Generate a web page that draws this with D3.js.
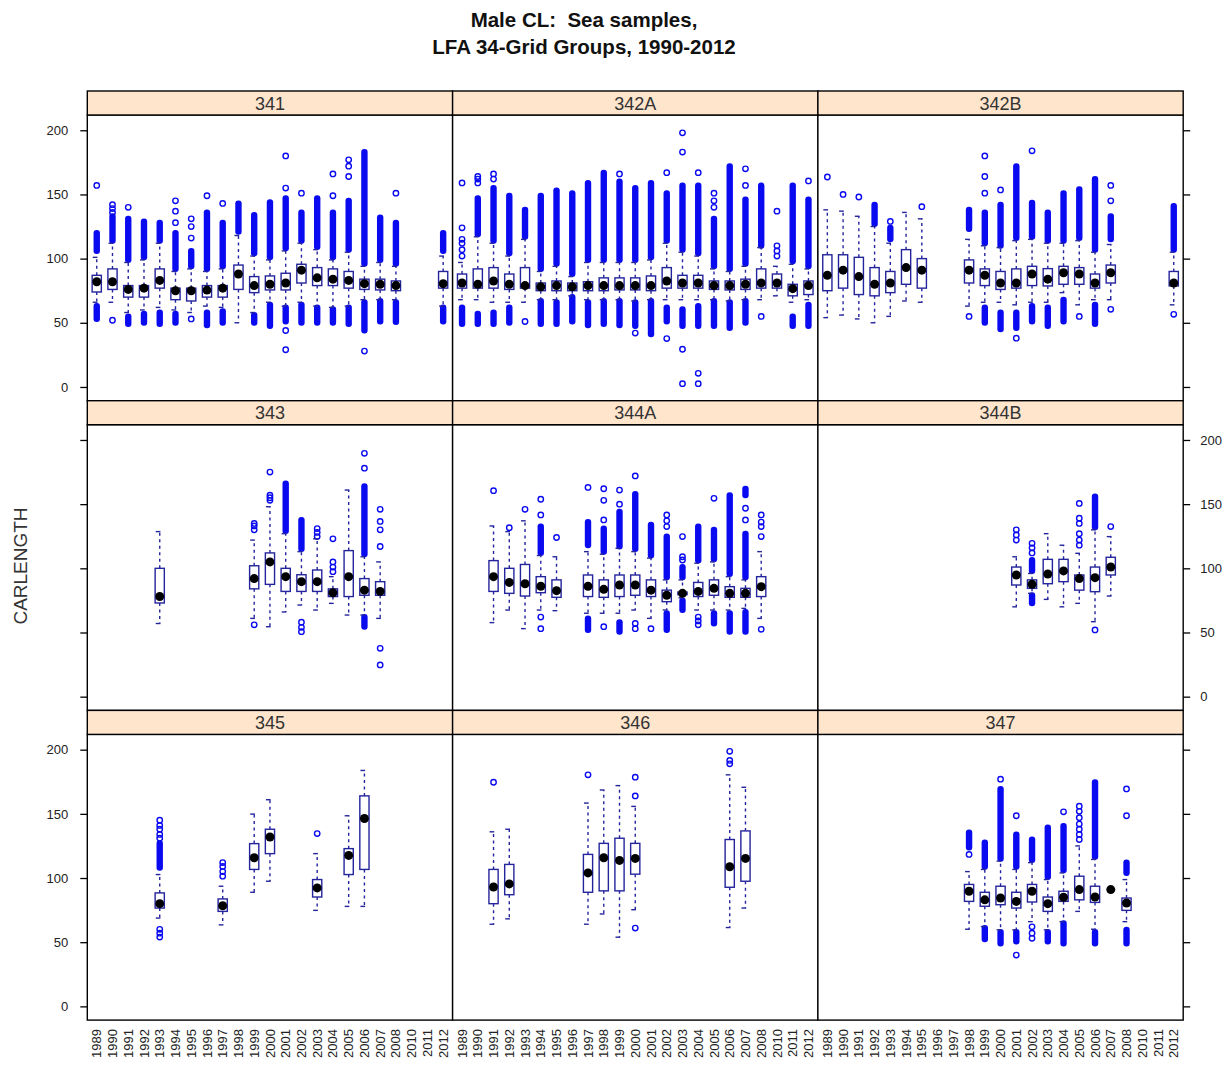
<!DOCTYPE html>
<html><head><meta charset="utf-8">
<script src="https://cdn.jsdelivr.net/npm/d3@7"></script>
<style>body{margin:0;background:#fff}svg{display:block;font-family:"Liberation Sans",Arial,sans-serif}</style>
</head><body>
<svg id="c" width="1231" height="1065"></svg>
<script>
// ---------- data ----------
const years = ["1989","1990","1991","1992","1993","1994","1995","1996","1997","1998","1999","2000",
  "2001","2002","2003","2004","2005","2006","2007","2008","2010","2011","2012"];
const panelNames = ["341","342A","342B","343","344A","344B","345","346","347"];
const yTicks = [0,50,100,150,200];
const titleLines = ["Male CL:  Sea samples,", "LFA 34-Grid Groups, 1990-2012"];
const yTitle = "CARLENGTH";
// each box: [year, lower whisker, Q1, median, Q3, upper whisker, outliers]
// outliers: single values, or [low, high] for a dense run of outliers
const box341 = [
 ["1989",66,74,82,87,101,[[106,120],157,[53,63]]],
 ["1990",66,76,82,92,112,[[114,133],136,139,142,52]],
 ["1991",58,70,76,79,97,[[99,131],140,[49,55]]],
 ["1992",60,70,77,79,99,[[101,129],[50,57]]],
 ["1993",62,77,83,92,112,[[114,128],[49,58]]],
 ["1994",60,68,75,77,90,[[92,120],128,137,145,[50,57]]],
 ["1995",58,67,75,77,92,[[94,106],116,125,131,53]],
 ["1996",63,70,75.5,79,90,[[92,136],149,[48,58]]],
 ["1997",62,70,77,79,92,[[94,128],143,[50,59]]],
 ["1998",50,76,88,95,118,[[121,143]]],
 ["1999",58,73.5,79,86,102,[[104,134],[50,56]]],
 ["2000",66,75.6,80,86.5,99,[[101,144],[47.5,64]]],
 ["2001",63,75.6,81,88.6,106,[[108,147],155,180,[51,62],44,29]],
 ["2002",66,81,91,95.6,112,[[114,136],151,[50,64]]],
 ["2003",63,79,85,93,107,[[109,147],[50,62]]],
 ["2004",62,79,84,92,99,[[101,136],149,166,[50,60.5]]],
 ["2005",63,77,83,90,105,[[107,145],164,172,177,[49,62]]],
 ["2006",68,76,80.5,84,94,[[96,183],[44,66],28]],
 ["2007",68,75.6,80,84,97,[[99,132],[51,67]]],
 ["2008",68,75,79,82.6,94,[[96,128],151,[50.6,66]]],
 ["2012",63,77,80.5,90,102,[[106,120],[51,62]]]
];
const box342A = [
 ["1989",68,77,81,88,97,[102,107,112,115,124,159,[49,62]]],
 ["1990",68,77,80,92,117,[[119,147],159,162,164,[49,57]]],
 ["1991",66,77,82.6,93,112,[[114,155],162,166,[49,58]]],
 ["1992",66,76,80,88,102,[[104,149],[50,62]]],
 ["1993",66,77,79,93,115,[[117,138],51]],
 ["1994",68,75,78,81,90,[[92,149],[49,67]]],
 ["1995",68,75,79,82.6,94,[[96,153],[49,66]]],
 ["1996",71,75,78,81,86,[[88,151],[51,70]]],
 ["1997",68,75,79,82,97,[[99,159],[48,66]]],
 ["1998",68,75,79,85,97,[[99,167],[49,67]]],
 ["1999",68,75.6,79,85,97,[[99,160],166,[48,67]]],
 ["2000",67,75.6,79,85,97,[[99,155],[47.5,66],42]],
 ["2001",68,75,79,86.5,99,[[101,159],[41,67]]],
 ["2002",68,77,82.6,93,112,[[114,151],167,[51,62],37.7]],
 ["2003",68,77,81,87,105,[[107,157],183,198,[47.5,60.5],29.4,2.6]],
 ["2004",68,77,81,87,102,[[104,157],167,[47.5,63],10.6,2.6]],
 ["2005",68,76,79,82.6,92,[[94,131],140,145,151,[47.5,67]]],
 ["2006",67,75.6,79,82.6,90,[[92,172],[46,66]]],
 ["2007",68,76,80,84,94,[[96,146],157,170,[50,67]]],
 ["2008",68,77,81,92,108.6,[[110,157],55]],
 ["2010",71,77,81,88,94,[102,106,110,137]],
 ["2011",66,71,76.6,80,95.6,[[98,157],[47.5,55]]],
 ["2012",68,72,79,82.6,92,[[94,146],160.5,[47.5,64]]]
];
const box342B = [
 ["1989",54,75,87,103,138,[163.6]],
 ["1990",56,77,91,103,137,[150]],
 ["1991",53,72,86,101,133,[148]],
 ["1992",50,71,80,93,125,[[127,142]]],
 ["1993",55,73.5,81,90,112,[[115,124],129]],
 ["1994",67,80,93,107,136,[]],
 ["1995",66,77,91,100,131,[140.5]],
 ["1998",63,81,91,99,115,[[123,138],55]],
 ["1999",66,79,87,92,110,[[112,136],151,164,180,[50,62]]],
 ["2000",66,76,81,90,108.6,[[110,142],153.5,[45,58]]],
 ["2001",64,77,81,92,114,[[116,172],[46,58],38]],
 ["2002",66,79,88,94,115,[[117,143.6],184,[51,63]]],
 ["2003",66,78.7,84,92.2,112,[[114,136],[47.5,62]]],
 ["2004",73.5,80,89,94,112,[[114,151],[51,68]]],
 ["2005",64,80,88,93,114,[[116,154],55]],
 ["2006",68,77,81,88,105,[[107,162],[49,64]]],
 ["2007",68,81,89,95,111,[[115,133],145,157,60.5]],
 ["2012",64,78.7,81,90,105,[[107,141],56.6]]
];
const box343 = [
 ["1993",57,73,78,100,128.6,[]],
 ["1999",61,84,92,102,122,[130,133,135,56]],
 ["2000",54.5,87.5,105,112,148,[153,155,157,175]],
 ["2001",66,82,93.5,100,127,[[129,166]]],
 ["2002",71.4,82,89.6,95,113,[[115,137.7],50.6,54,58]],
 ["2003",67.5,82,89.6,98.7,123,[124.7,128,131]],
 ["2004",72.7,78,81,84,93.5,[97.4,101,105,123]],
 ["2005",63.6,78,93.5,113.8,161,[]],
 ["2006",63.6,79,83,92,109,[[111,164],178,189.6,[54.5,62]]],
 ["2007",61,79,82,89.6,105,[117,130,136.5,146,37.7,24.7]]
];
const box344A = [
 ["1991",57.7,82,93.5,106,133,[160.5]],
 ["1992",67.5,80.5,89,100,128.6,[131.7]],
 ["1993",53,78.4,88,103,137,[146]],
 ["1994",67.5,81,86,93.5,110,[[112,132.5],141.6,153.8,62,53]],
 ["1995",67,77.4,82.6,91,109,[124]],
 ["1997",65,78,86,94.8,113,[[118,136],163,[52,61]]],
 ["1998",65,77.4,83.6,91,111,[[113,131],137.7,153,162,54.5]],
 ["1999",65,78,87,94.8,115.6,[[117,144],150,161,[50.6,58]]],
 ["2000",67.5,79,87,94.8,113,[[115,158],172,53,57]],
 ["2001",61,78,83,91,108,[[110,134],53]],
 ["2002",67.5,74,79,83,91,[[93,124.7],132.5,137,141.6,[52,65]]],
 ["2003",77,79.5,80.5,81.5,91,[[93,101],106.5,109,124.7,[67.5,75]]],
 ["2004",67.5,78,82,89,104,[[106,132.5],56,59,62]],
 ["2005",67.5,79,84.4,91,105,[[107,130],154.5,[57,65]]],
 ["2006",67.5,77.4,80.5,85.7,93.5,[[95.5,157],[50.6,65]]],
 ["2007",68.8,77.4,80.5,84.4,91,[[93,127],137.7,146.8,[157,162],[50.6,66]]],
 ["2008",61,78,85.7,93.5,113,[124.7,132.5,136,141.6,52.5]]
];
const box344B = [
 ["2001",70,87,94.8,101,109,[122,126,130]],
 ["2002",80.5,84.4,87.5,91,96,[[98,106.5],112,116,119.5,[72.7,79]]],
 ["2003",75.8,88,95.6,107,127,[]],
 ["2004",70,89.6,98,107,118,[]],
 ["2005",72.7,83,92,94.8,111.7,[118,122,127,135,139,150.6]],
 ["2006",58.4,81.8,92.7,101,130,[[132,156],52]],
 ["2007",78.4,94.8,101,108.6,124.7,[132.5]]
];
const box345 = [
 ["1993",68.8,76.6,80,88.4,102.7,[[108,127],131,134,138,141,145,54,57,60]],
 ["1997",63.5,74,78.4,83.7,93.6,[101.4,105,109,112]],
 ["1999",88.9,106.7,115.8,126.8,149.8,[]],
 ["2000",97.5,119,132,138,161,[]],
 ["2003",74.8,85.2,92.3,98.8,119,[134.6]],
 ["2005",77.9,102.7,117.6,122.9,148.5,[]],
 ["2006",77.9,106.7,146.4,164,183.8,[]]
];
const box346 = [
 ["1991",64,80,93,106.7,136,[174.6]],
 ["1992",68.2,87,95.4,110.6,138,[]],
 ["1997",64,88.9,104,118.4,158.4,[180.4]],
 ["1998",72,90,115.8,127,168.6,[]],
 ["1999",53.9,90,113.7,131,172,[]],
 ["2000",75.3,103,115.3,127,155.8,[164,178.6,61]],
 ["2006",61.4,92.8,108.8,130,180.4,[189,191.6,198.7]],
 ["2007",76.6,97.5,115.3,136.7,170.7,[]]
];
const box347 = [
 ["1998",60.1,81.8,89.7,95,105,[118.4,[123.7,135.4]]],
 ["1999",62.2,78,83,88.9,106.7,[[108.7,127.6],[52.3,61]]],
 ["2000",59.6,79.2,84.4,93.6,113.2,[[115,169.4],177,[49,58]]],
 ["2001",59.6,76.6,81.8,88.9,106.7,[[108.7,134],148.5,[50.5,58],40]],
 ["2002",66,81.3,89.7,95,112,[[114,130],53,57,62]],
 ["2003",59.6,74,80,85.2,98.8,[[100.8,139.3],[50.5,58]]],
 ["2004",66,81.8,85,89.7,104,[[106,140.6],151.6,[49,64.8]]],
 ["2005",74,83,91,101.4,125,[130,134,138,142,147,152,156]],
 ["2006",60.1,81,85.2,93.6,114.5,[[116.5,174.6],[49,58]]],
 ["2007",91,91,91,91,91,[]],
 ["2008",66,74.8,80.5,84.4,98.8,[[104,112],148.5,169.4,[49,59.6]]]
];
const panelBoxes = [box341, box342A, box342B, box343, box344A, box344B, box345, box346, box347];

// ---------- layout ----------
const svg = d3.select("#c");
const left = 87.3, colW = 365.3;
const top0 = 91, rowH = 309.7, stripH = 24;
const boxCol = "#24249c", outCol = "#0a0af0";
const tickFont = 13;

svg.append("g").selectAll("text").data(titleLines).join("text")
  .attr("x", 584).attr("y", (d,i) => 27 + i*27)
  .attr("text-anchor","middle").attr("font-weight","bold").attr("font-size", 20.5)
  .style("white-space","pre").attr("fill","#111").text(d => d);

svg.append("text").attr("transform","translate(27,566) rotate(-90)")
  .attr("text-anchor","middle").attr("font-size",19).attr("fill","#333").text(yTitle);

panelNames.forEach((name, i) => {
  const col = i % 3, row = Math.floor(i / 3);
  const x0 = left + col*colW, sTop = top0 + row*rowH, pTop = sTop + stripH, pBot = sTop + rowH;
  const x = d3.scalePoint().domain(years).range([x0, x0 + colW]).padding(0.6);
  const y = d3.scaleLinear().domain([-10.7, 211.9]).range([pBot, pTop]);
  const g = svg.append("g");

  g.append("rect").attr("x",x0).attr("y",pTop).attr("width",colW).attr("height",pBot-pTop)
    .attr("fill","#fff").attr("stroke","none");

  const data = panelBoxes[i];
  const bg = g.append("g");
  data.forEach(b => {
    const [yr, wlo, q1, med, q3, whi, outs] = b;
    const cx = x(yr);
    outs.forEach(o => {
      if (Array.isArray(o)) {
        bg.append("rect").attr("x", cx-3.2).attr("width",6.4)
          .attr("y", y(o[1]) - 3).attr("height", y(o[0]) - y(o[1]) + 6)
          .attr("rx",3).attr("fill",outCol);
      } else {
        bg.append("circle").attr("cx",cx).attr("cy",y(o)).attr("r",2.7)
          .attr("fill","none").attr("stroke",outCol).attr("stroke-width",1.4);
      }
    });
    // whiskers
    [[q3, whi],[q1, wlo]].forEach(([a, e]) => {
      if (a === e) return;
      bg.append("line").attr("x1",cx).attr("x2",cx).attr("y1",y(a)).attr("y2",y(e))
        .attr("stroke",boxCol).attr("stroke-width",1.4).attr("stroke-dasharray","3,3.5");
      bg.append("line").attr("x1",cx-4).attr("x2",cx+0.7).attr("y1",y(e)).attr("y2",y(e))
        .attr("stroke",boxCol).attr("stroke-width",1.4);
    });
    if (q3 > q1) {
      bg.append("rect").attr("x",cx-4.6).attr("width",9.2).attr("y",y(q3)).attr("height",y(q1)-y(q3))
        .attr("fill","none").attr("stroke",boxCol).attr("stroke-width",1.4);
    }
    bg.append("circle").attr("cx",cx).attr("cy",y(med)).attr("r",4.5).attr("fill","#000");
  });

  g.append("rect").attr("x",x0).attr("y",pTop).attr("width",colW).attr("height",pBot-pTop)
    .attr("fill","none").attr("stroke","#000").attr("stroke-width",1.4);
  g.append("rect").attr("x",x0).attr("y",sTop).attr("width",colW).attr("height",stripH)
    .attr("fill","#ffe5cc").attr("stroke","#000").attr("stroke-width",1.4);
  g.append("text").attr("x", x0 + colW/2).attr("y", sTop + stripH/2 + 6.5)
    .attr("text-anchor","middle").attr("font-size",18).attr("fill","#333").text(name);

  // y axes
  if (col === 0) {
    const ax = d3.axisLeft(y).tickValues(yTicks).tickSize(7).tickPadding(12)
      .tickFormat(row === 1 ? () => "" : d3.format("d"));
    const a = g.append("g").attr("transform",`translate(${x0},0)`).call(ax);
    a.select(".domain").remove();
    a.selectAll("text").attr("font-size",tickFont).attr("fill","#222").attr("font-family",null);
    a.selectAll("line").attr("stroke","#000").attr("stroke-width",1.3);
  }
  if (col === 2) {
    const ax = d3.axisRight(y).tickValues(yTicks).tickSize(7).tickPadding(10)
      .tickFormat(row === 1 ? d3.format("d") : () => "");
    const a = g.append("g").attr("transform",`translate(${x0+colW},0)`).call(ax);
    a.select(".domain").remove();
    a.selectAll("text").attr("font-size",tickFont).attr("fill","#222").attr("font-family",null);
    a.selectAll("line").attr("stroke","#000").attr("stroke-width",1.3);
  }
  if (row === 2) {
    g.append("g").selectAll("text").data(years).join("text")
      .attr("transform", d => `translate(${x(d)},${pBot+9}) rotate(-90)`)
      .attr("text-anchor","end").attr("dy","0.35em")
      .attr("font-size",tickFont).attr("fill","#222").text(d => d);
  }
});
</script>
</body></html>
